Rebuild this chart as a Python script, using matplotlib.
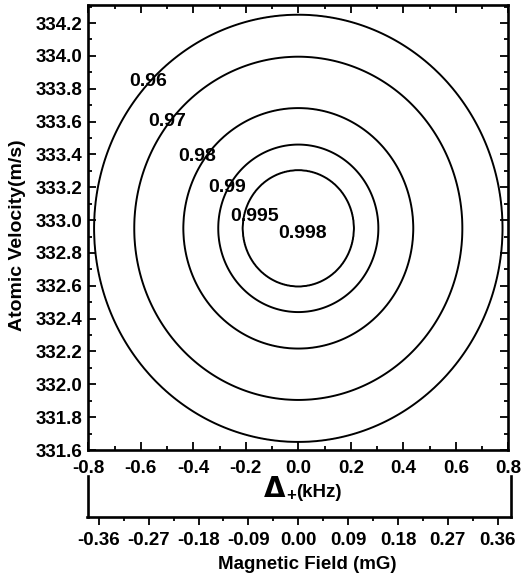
import numpy as np
import matplotlib
matplotlib.use("Agg")
import matplotlib.pyplot as plt
from matplotlib.ticker import MultipleLocator, FormatStrFormatter

plt.rcParams['font.family'] = ['Liberation Sans', 'DejaVu Sans']
plt.rcParams['font.weight'] = 'bold'
plt.rcParams['axes.unicode_minus'] = False

# ---- data ----
ring_levels = [0.998, 0.995, 0.99, 0.98, 0.97]          # contour levels drawn
ring_rx_khz = [0.212, 0.305, 0.438, 0.625, 0.778]        # semi-axis along Delta_+ (kHz)
ring_ry_ms = [0.351, 0.513, 0.737, 1.047, 1.296]         # semi-axis along velocity (m/s)
center_khz = 0.0
center_v = 332.95
label_texts = ["0.96", "0.97", "0.98", "0.99", "0.995", "0.998"]
xticks_khz = [-0.8, -0.6, -0.4, -0.2, 0.0, 0.2, 0.4, 0.6, 0.8]
yticks_v = [331.6, 331.8, 332.0, 332.2, 332.4, 332.6, 332.8, 333.0,
            333.2, 333.4, 333.6, 333.8, 334.0, 334.2]
field_ticks_mg = [-0.36, -0.27, -0.18, -0.09, 0.00, 0.09, 0.18, 0.27, 0.36]

# ---- field built from the measured rings ----
aspect = np.mean(np.array(ring_ry_ms) / np.array(ring_rx_khz))
xg = np.linspace(-0.8, 0.8, 801)
yg = np.linspace(331.6, 334.31, 801)
X, Y = np.meshgrid(xg, yg)
rho = np.sqrt((X - center_khz) ** 2 + ((Y - center_v) / aspect) ** 2)
rho_pts = [0.0] + ring_rx_khz + [1.5]
val_pts = [1.0] + ring_levels + [0.90]
Z = np.interp(rho, rho_pts, val_pts)

fig = plt.figure(figsize=(5.22, 5.80), dpi=100)
ax = fig.add_axes([88.3 / 522, 1 - 450 / 580, 420 / 522, 445 / 580])

ax.contour(X, Y, Z, levels=sorted(ring_levels), colors='black', linewidths=1.4)

# contour labels (placed as in the reference)
label_pos = [(-0.570, 333.844), (-0.498, 333.60), (-0.386, 333.39),
             (-0.270, 333.20), (-0.167, 333.02), (0.016, 332.92)]
for txt, (lx, ly) in zip(label_texts, label_pos):
    ax.text(lx, ly, txt, ha='center', va='center', fontsize=14,
            fontweight='bold')

ax.set_xlim(-0.8, 0.8)
ax.set_ylim(331.6, 334.31)
ax.set_xticks(xticks_khz)
ax.set_yticks(yticks_v)
ax.xaxis.set_minor_locator(MultipleLocator(0.1))
ax.yaxis.set_minor_locator(MultipleLocator(0.1))
ax.xaxis.set_major_formatter(FormatStrFormatter('%.1f'))
ax.yaxis.set_major_formatter(FormatStrFormatter('%.1f'))
ax.tick_params(which='both', direction='in', top=True, right=True, width=1.3)
ax.tick_params(which='major', length=5.5)
ax.tick_params(which='minor', length=3)
ax.tick_params(axis='x', which='major', pad=7, labelsize=13.5)
ax.tick_params(axis='y', which='major', pad=4, labelsize=13.5)
for lab in ax.get_xticklabels() + ax.get_yticklabels():
    lab.set_fontweight('bold')
for sp in ax.spines.values():
    sp.set_linewidth(1.9)

ax.set_ylabel('Atomic Velocity(m/s)', fontsize=14, fontweight='bold', va='center')
ax.yaxis.set_label_coords(-0.168, 0.482)

# x label: Delta_+ (kHz)
ax.text(0.443, -0.1056, 'Δ', transform=ax.transAxes, ha='center',
        va='baseline', fontsize=20, fontweight='bold',
        family=['DejaVu Sans'])
ax.text(0.483, -0.113, '+', transform=ax.transAxes, ha='center',
        va='baseline', fontsize=12, fontweight='bold')
ax.text(0.494, -0.1056, '(kHz)', transform=ax.transAxes, ha='left',
        va='baseline', fontsize=13.5, fontweight='bold')

# secondary magnetic field bracket axis
ax2 = fig.add_axes([87.5 / 522, 1 - 517 / 580, (511 - 87.5) / 522, 41 / 580])
ax2.set_facecolor('none')
ax2.set_xlim(-0.3804, 0.3838)
ax2.set_ylim(0, 1)
ax2.set_xticks(field_ticks_mg)
ax2.xaxis.set_minor_locator(MultipleLocator(0.045))
ax2.xaxis.set_major_formatter(FormatStrFormatter('%.2f'))
ax2.set_yticks([])
ax2.spines['top'].set_visible(False)
for s in ['left', 'right', 'bottom']:
    ax2.spines[s].set_linewidth(1.9)
ax2.tick_params(axis='x', which='both', direction='out', width=1.3)
ax2.tick_params(axis='x', which='major', length=6, pad=5, labelsize=13.5)
ax2.tick_params(axis='x', which='minor', length=3)
for lab in ax2.get_xticklabels():
    lab.set_fontweight('bold')
ax2.set_xlabel('Magnetic Field (mG)', fontsize=13.5, fontweight='bold')
ax2.xaxis.set_label_coords(0.518, -1.17)
ax2.xaxis.label.set_va('center')

fig.savefig('out.png', dpi=100)
